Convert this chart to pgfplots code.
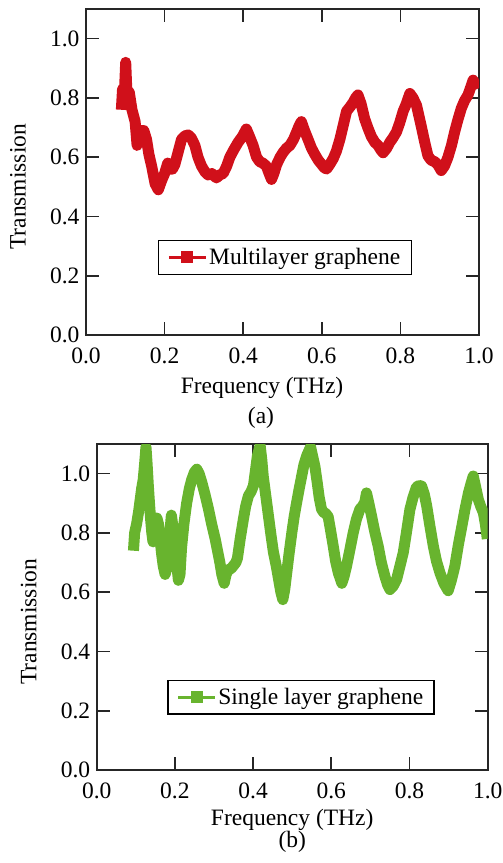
\documentclass[border=0pt]{standalone}
\usepackage{fontspec}
\setmainfont{Liberation Serif}
\usepackage{pgfplots}
\pgfplotsset{compat=1.18}
\usepackage{pgfplotstable}

\definecolor{multired}{RGB}{208,16,26}
\definecolor{singlegreen}{RGB}{104,180,46}

% multilayer graphene
\pgfplotstableread{
x y
0.090 0.760
0.093 0.830
0.097 0.790
0.101 0.920
0.104 0.820
0.110 0.820
0.117 0.760
0.125 0.720
0.130 0.640
0.134 0.660
0.140 0.690
0.147 0.690
0.154 0.660
0.160 0.610
0.167 0.570
0.176 0.510
0.184 0.490
0.192 0.520
0.200 0.545
0.208 0.580
0.214 0.560
0.220 0.560
0.226 0.575
0.235 0.620
0.243 0.660
0.252 0.672
0.260 0.675
0.268 0.665
0.277 0.640
0.285 0.600
0.294 0.570
0.303 0.550
0.311 0.540
0.320 0.545
0.332 0.530
0.340 0.540
0.349 0.545
0.358 0.570
0.366 0.600
0.376 0.625
0.387 0.650
0.398 0.670
0.408 0.695
0.416 0.670
0.425 0.640
0.434 0.600
0.442 0.585
0.450 0.580
0.459 0.570
0.466 0.545
0.472 0.525
0.478 0.545
0.485 0.575
0.494 0.600
0.502 0.617
0.510 0.630
0.519 0.640
0.528 0.660
0.536 0.685
0.542 0.705
0.548 0.720
0.556 0.690
0.565 0.660
0.574 0.630
0.582 0.610
0.591 0.590
0.600 0.575
0.606 0.565
0.612 0.560
0.620 0.575
0.629 0.595
0.637 0.620
0.646 0.660
0.655 0.710
0.663 0.755
0.672 0.770
0.680 0.785
0.686 0.800
0.692 0.810
0.700 0.780
0.709 0.730
0.717 0.700
0.726 0.670
0.735 0.650
0.743 0.640
0.750 0.625
0.756 0.615
0.765 0.630
0.773 0.650
0.781 0.665
0.790 0.685
0.798 0.715
0.807 0.755
0.815 0.780
0.824 0.815
0.832 0.800
0.841 0.775
0.847 0.740
0.853 0.705
0.862 0.650
0.870 0.605
0.878 0.590
0.887 0.585
0.895 0.575
0.904 0.555
0.912 0.570
0.921 0.600
0.930 0.640
0.938 0.685
0.946 0.725
0.955 0.765
0.963 0.790
0.972 0.810
0.980 0.840
0.985 0.860
0.990 0.845
0.995 0.830
}\multidata

% single layer graphene
\pgfplotstableread{
x y
0.094 0.740
0.097 0.800
0.102 0.830
0.107 0.870
0.111 0.910
0.115 0.950
0.119 0.980
0.123 1.040
0.126 1.090
0.129 1.030
0.132 0.960
0.135 0.900
0.138 0.845
0.141 0.800
0.144 0.770
0.147 0.820
0.150 0.850
0.154 0.850
0.158 0.830
0.162 0.780
0.166 0.730
0.170 0.690
0.175 0.660
0.179 0.680
0.183 0.730
0.187 0.800
0.191 0.860
0.195 0.820
0.200 0.750
0.205 0.690
0.209 0.640
0.213 0.660
0.217 0.750
0.223 0.830
0.230 0.900
0.237 0.950
0.243 0.980
0.250 1.005
0.256 1.015
0.262 1.000
0.269 0.970
0.277 0.930
0.286 0.880
0.294 0.830
0.303 0.780
0.309 0.740
0.315 0.700
0.320 0.660
0.326 0.630
0.331 0.660
0.337 0.676
0.344 0.680
0.350 0.690
0.356 0.700
0.360 0.715
0.367 0.780
0.375 0.845
0.381 0.890
0.388 0.925
0.395 0.940
0.401 0.960
0.406 1.010
0.411 1.060
0.418 1.095
0.422 1.050
0.426 0.990
0.432 0.930
0.439 0.860
0.446 0.790
0.452 0.735
0.459 0.690
0.465 0.645
0.471 0.600
0.476 0.575
0.481 0.610
0.486 0.665
0.492 0.730
0.499 0.800
0.505 0.855
0.511 0.900
0.518 0.950
0.524 0.990
0.530 1.030
0.537 1.060
0.547 1.090
0.552 1.060
0.558 1.025
0.564 0.970
0.569 0.920
0.575 0.880
0.580 0.870
0.586 0.865
0.592 0.855
0.598 0.810
0.605 0.755
0.611 0.705
0.618 0.665
0.627 0.630
0.633 0.655
0.639 0.688
0.647 0.740
0.656 0.800
0.664 0.845
0.673 0.880
0.680 0.890
0.686 0.905
0.690 0.935
0.696 0.900
0.703 0.857
0.711 0.805
0.720 0.755
0.728 0.700
0.737 0.654
0.744 0.625
0.750 0.609
0.758 0.620
0.767 0.643
0.775 0.685
0.784 0.733
0.792 0.800
0.801 0.879
0.809 0.920
0.818 0.955
0.825 0.960
0.831 0.958
0.838 0.930
0.844 0.891
0.852 0.825
0.861 0.755
0.869 0.705
0.878 0.665
0.888 0.630
0.899 0.605
0.907 0.640
0.916 0.688
0.925 0.760
0.934 0.823
0.942 0.880
0.951 0.936
0.957 0.965
0.963 0.992
0.970 0.950
0.976 0.913
0.982 0.890
0.989 0.868
0.994 0.830
0.999 0.780
}\singledata

\newcommand{\figfont}{\fontsize{23.5}{27}\selectfont}

\pgfplotsset{
  panel/.style={
    scale only axis,
    width=392pt, height=326pt,
    xmin=0, xmax=1, ymin=0, ymax=1.1,
    xtick={0,0.2,...,1.0}, ytick={0,0.2,...,1.0},
    tick align=inside,
    major tick length=13pt,
    tick style={line width=1.6pt, black!85},
    axis line style={line width=1.8pt, black!85},
    tick label style={font=\figfont},
    xticklabel style={yshift=-9pt},
    yticklabel style={xshift=-3pt},
    /pgf/number format/assume math mode=true,
    /pgf/number format/.cd, fixed, fixed zerofill, precision=1,
    /pgfplots/.cd,
    every axis y label/.style={at={(rel axis cs:0,0.4545)}, xshift=-68pt, rotate=90, anchor=center, font=\figfont},
    ylabel={Transmission},
    legend cell align=left,
    legend style={draw=black, line width=1.5pt, font=\figfont,
      inner xsep=9pt, inner ysep=6pt, anchor=south west},
    legend image code/.code={
      \draw[line width=2.5pt] (0pt,0pt) -- (37pt,0pt);
      \fill[draw=none] (12.5pt,-6pt) rectangle (24.5pt,6pt);
    },
  },
}

\begin{document}
\begin{tikzpicture}
\useasboundingbox (0,0) rectangle (503pt,-863pt);

% (a) multilayer graphene
\begin{axis}[panel, name=pa,
  at={(86pt,-335pt)}, anchor=south west, width=393pt,
  every axis x label/.style={at={(rel axis cs:0.448,0)}, yshift=-53pt, anchor=center, font=\figfont},
  xlabel={Frequency (THz)},
  legend style={at={(rel axis cs:0.183,0.184)}},
]
\addplot[color=multired, line width=11pt, line join=round] table[x=x, y=y] {\multidata};
\addlegendentry{Multilayer graphene}
\end{axis}
\node[font=\figfont] at ([xshift=-21.5pt, yshift=-83pt]pa.south) {(a)};

% (b) single layer graphene
\begin{axis}[panel, name=pb,
  at={(96.7pt,-770pt)}, anchor=south west, width=391pt,
  every axis x label/.style={at={(rel axis cs:0.5,0)}, yshift=-50pt, anchor=center, font=\figfont},
  xlabel={Frequency (THz)},
  legend style={at={(rel axis cs:0.18,0.169)}},
]
\addplot[color=singlegreen, line width=11pt, line join=round] table[x=x, y=y] {\singledata};
\addlegendentry{Single layer graphene}
\end{axis}
\node[font=\figfont] at ([yshift=-72pt]pb.south) {(b)};
\end{tikzpicture}
\end{document}
